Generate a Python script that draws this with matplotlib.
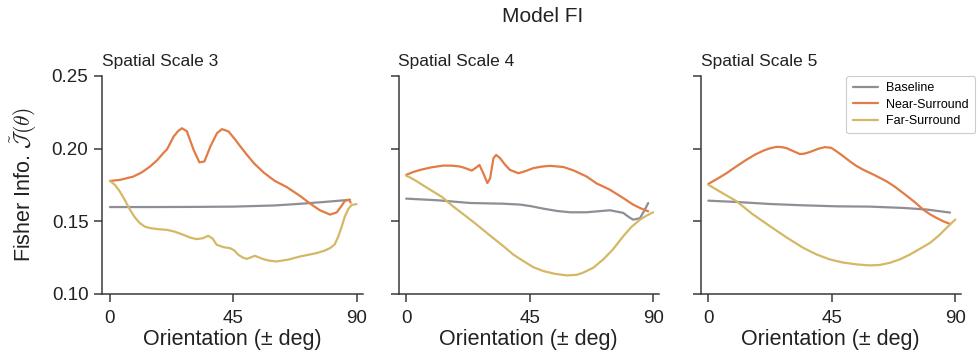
import matplotlib
matplotlib.use("Agg")
import matplotlib.pyplot as plt

plt.rcParams['font.family'] = ['Liberation Sans', 'DejaVu Sans']
plt.rcParams['mathtext.fontset'] = 'cm'

# ---------------- data ----------------
scales = ["Spatial Scale 3", "Spatial Scale 4", "Spatial Scale 5"]
series_names = ["Baseline", "Near-Surround", "Far-Surround"]

# Spatial scale 3
th_s3_base = [0, 15, 30, 45, 60, 69, 78, 87.5]
fi_s3_base = [0.1597, 0.1597, 0.1598, 0.1600, 0.1608, 0.1619, 0.1632, 0.1647]
th_s3_near = [0, 3.6, 8.5, 11.5, 14.6, 17.2, 19.4, 20.8, 23.2, 24.8, 26.2, 28, 30.5, 32.6,
              34.4, 36.6, 39, 40.8, 43.2, 45.5, 47.5, 50, 52.4, 56, 60, 64.4, 69.4, 73,
              76.5, 80.2, 82.6, 84.2, 85.6, 87.2, 87.7]
fi_s3_near = [0.1777, 0.1784, 0.1807, 0.1835, 0.1876, 0.1920, 0.1968, 0.1995, 0.2083, 0.2120,
              0.2140, 0.2120, 0.1990, 0.1905, 0.1911, 0.2015, 0.2106, 0.2134, 0.2118, 0.2065,
              0.2015, 0.1955, 0.1900, 0.1835, 0.1778, 0.1735, 0.1672, 0.1620, 0.1575, 0.1545,
              0.1560, 0.1600, 0.1640, 0.1647, 0.1628]
th_s3_far = [0, 1.8, 3.6, 5.4, 7.3, 9.1, 10.9, 12.7, 14.6, 17.5, 20.7, 23.5, 26.7, 29.5,
             31.6, 33.8, 35.8, 37.4, 38.9, 41.5, 43.7, 45.3, 46.8, 48.5, 49.8, 51.3, 52.8,
             54.3, 55.9, 58, 60.7, 65, 69.2, 75.3, 78, 80.2, 81.9, 83.2, 84.4, 85.6, 86.9,
             88.1, 89.9]
fi_s3_far = [0.1777, 0.1750, 0.1704, 0.1645, 0.1578, 0.1525, 0.1486, 0.1462, 0.1452, 0.1445,
             0.1440, 0.1428, 0.1406, 0.1385, 0.1376, 0.1382, 0.1399, 0.1380, 0.1337, 0.1320,
             0.1314, 0.1298, 0.1268, 0.1248, 0.1240, 0.1250, 0.1261, 0.1250, 0.1238, 0.1228,
             0.1222, 0.1235, 0.1256, 0.1280, 0.1295, 0.1314, 0.1340, 0.1394, 0.1460, 0.1532,
             0.1585, 0.1612, 0.1617]

# Spatial scale 4
th_s4_base = [0, 11.2, 23.3, 35.4, 41.5, 45.5, 50, 55, 59.7, 65.7, 70, 74.2, 79.1, 81,
              82.7, 85.2, 87, 88.2]
fi_s4_base = [0.1655, 0.1644, 0.1625, 0.1620, 0.1614, 0.1603, 0.1586, 0.1570, 0.1561, 0.1561,
              0.1568, 0.1575, 0.1557, 0.1530, 0.1510, 0.1520, 0.1580, 0.1625]
th_s4_near = [0, 2.5, 5.1, 9, 13.6, 16.8, 19.7, 22, 23.9, 25.4, 26.7, 28.1, 29.6, 30.6,
              31.8, 32.8, 34.2, 36, 37.8, 40.9, 43.5, 46.3, 49.5, 52.4, 57.3, 60.9, 65.7,
              69.4, 74.2, 79.1, 82.7, 85.5, 88.2]
fi_s4_near = [0.1819, 0.1838, 0.1853, 0.1870, 0.1883, 0.1882, 0.1876, 0.1862, 0.1848, 0.1868,
              0.1887, 0.1830, 0.1762, 0.1796, 0.1934, 0.1956, 0.1934, 0.1890, 0.1853, 0.1830,
              0.1845, 0.1865, 0.1876, 0.1881, 0.1873, 0.1850, 0.1808, 0.1760, 0.1717, 0.1659,
              0.1614, 0.1588, 0.1568]
th_s4_far = [0, 1.5, 3.9, 6.3, 8.7, 13, 17.2, 21.5, 25.7, 30.6, 35.4, 39, 42.7, 46.3, 50,
             54.2, 58.5, 62.1, 64.5, 68.2, 71.8, 75.4, 79.1, 82.1, 85.2, 87.6, 90]
fi_s4_far = [0.1813, 0.1800, 0.1774, 0.1745, 0.1717, 0.1667, 0.1600, 0.1538, 0.1476, 0.1400,
             0.1328, 0.1270, 0.1225, 0.1183, 0.1156, 0.1137, 0.1126, 0.1130, 0.1145, 0.1179,
             0.1236, 0.1306, 0.1396, 0.1460, 0.1510, 0.1538, 0.1561]

# Spatial scale 5
th_s5_base = [0, 10.3, 22.5, 34.6, 46.8, 58.9, 71, 79.6, 88.1]
fi_s5_base = [0.1641, 0.1632, 0.1618, 0.1609, 0.1602, 0.1600, 0.1591, 0.1580, 0.1559]
th_s5_near = [0, 3.4, 6.7, 10.3, 13.9, 17, 20, 22.5, 24.9, 26.8, 28.5, 31, 33.4, 35, 37,
              40, 42.5, 44.8, 46.8, 49, 51.6, 54, 56.5, 60.5, 65, 68, 71, 75, 78.3, 81,
              83.2, 85.5, 87.8]
fi_s5_near = [0.1756, 0.1793, 0.1831, 0.1878, 0.1923, 0.1958, 0.1985, 0.2002, 0.2012, 0.2010,
              0.2003, 0.1982, 0.1962, 0.1965, 0.1976, 0.1998, 0.2010, 0.2005, 0.1980, 0.1950,
              0.1912, 0.1880, 0.1854, 0.1818, 0.1774, 0.1737, 0.1694, 0.1635, 0.1580, 0.1545,
              0.1522, 0.1500, 0.1483]
th_s5_far = [0, 5, 10.3, 16, 22.5, 28.5, 34.6, 39.5, 44.3, 49, 54, 58.9, 62.5, 66.2, 70,
             73.5, 77, 80.8, 84, 86.8, 90]
fi_s5_far = [0.1751, 0.1695, 0.1637, 0.1550, 0.1465, 0.1388, 0.1316, 0.1270, 0.1236, 0.1215,
             0.1202, 0.1195, 0.1198, 0.1213, 0.1238, 0.1270, 0.1308, 0.1350, 0.1400, 0.1453,
             0.1511]

xticks = [0, 45, 90]
yticks = [0.10, 0.15, 0.20, 0.25]
ytick_labels = ["0.10", "0.15", "0.20", "0.25"]

colors = {"Baseline": "#8E8E96", "Near-Surround": "#E37B45", "Far-Surround": "#D5B866"}

panels = [
    [(th_s3_base, fi_s3_base), (th_s3_near, fi_s3_near), (th_s3_far, fi_s3_far)],
    [(th_s4_base, fi_s4_base), (th_s4_near, fi_s4_near), (th_s4_far, fi_s4_far)],
    [(th_s5_base, fi_s5_base), (th_s5_near, fi_s5_near), (th_s5_far, fi_s5_far)],
]

# ---------------- figure ----------------
W, H = 977, 358
fig = plt.figure(figsize=(W / 100, H / 100), dpi=100)

lefts_px = [102.3, 398.5, 700.6]
ax_w_px = 260.4
top_px, bot_px = 76.0, 293.7
spine_col = "#3a3a3a"

axes = []
for i, lp in enumerate(lefts_px):
    ax = fig.add_axes([lp / W, 1 - bot_px / H, ax_w_px / W, (bot_px - top_px) / H])
    axes.append(ax)
    for name, (xs, ys) in zip(series_names, panels[i]):
        ax.plot(xs, ys, color=colors[name], lw=1.6, label=name,
                solid_capstyle='round', solid_joinstyle='round')
    ax.set_xlim(-2.8, 92.1)
    ax.set_ylim(0.10, 0.25)
    ax.set_xticks(xticks)
    ax.set_xticklabels([str(t) for t in xticks])
    ax.set_yticks(yticks)
    if i == 0:
        ax.set_yticklabels(ytick_labels)
        ax.set_ylabel(r"Fisher Info. $\tilde{\mathcal{J}}(\theta)$", fontsize=15.5,
                      labelpad=9, color="#222222")
    else:
        ax.set_yticklabels([])
    for s in ["top", "right"]:
        ax.spines[s].set_visible(False)
    for s in ["left", "bottom"]:
        ax.spines[s].set_color(spine_col)
        ax.spines[s].set_linewidth(1.1)
    ax.tick_params(axis="both", direction="out", length=6, width=1.1, color=spine_col,
                   labelsize=13.5, labelcolor="#222222")
    ax.tick_params(axis="x", pad=6)
    ax.tick_params(axis="y", pad=4)
    ax.set_xlabel("Orientation (± deg)", fontsize=15.5, labelpad=1, color="#222222")
    ax.set_title(scales[i], loc="left", fontsize=12.5, pad=7, color="#222222")

leg = axes[2].legend(loc="upper right", bbox_to_anchor=(1.055, 1.0), borderaxespad=0,
                     fontsize=9, handlelength=2.0, frameon=True, fancybox=True,
                     edgecolor="#cccccc", framealpha=1.0, labelspacing=0.35,
                     handletextpad=0.7, borderpad=0.5)
leg.get_frame().set_linewidth(0.8)

fig.text(543 / W, 1 - 16 / H, "Model FI", ha="center", va="center", fontsize=15,
         color="#222222")

fig.savefig("out.png", dpi=100)
